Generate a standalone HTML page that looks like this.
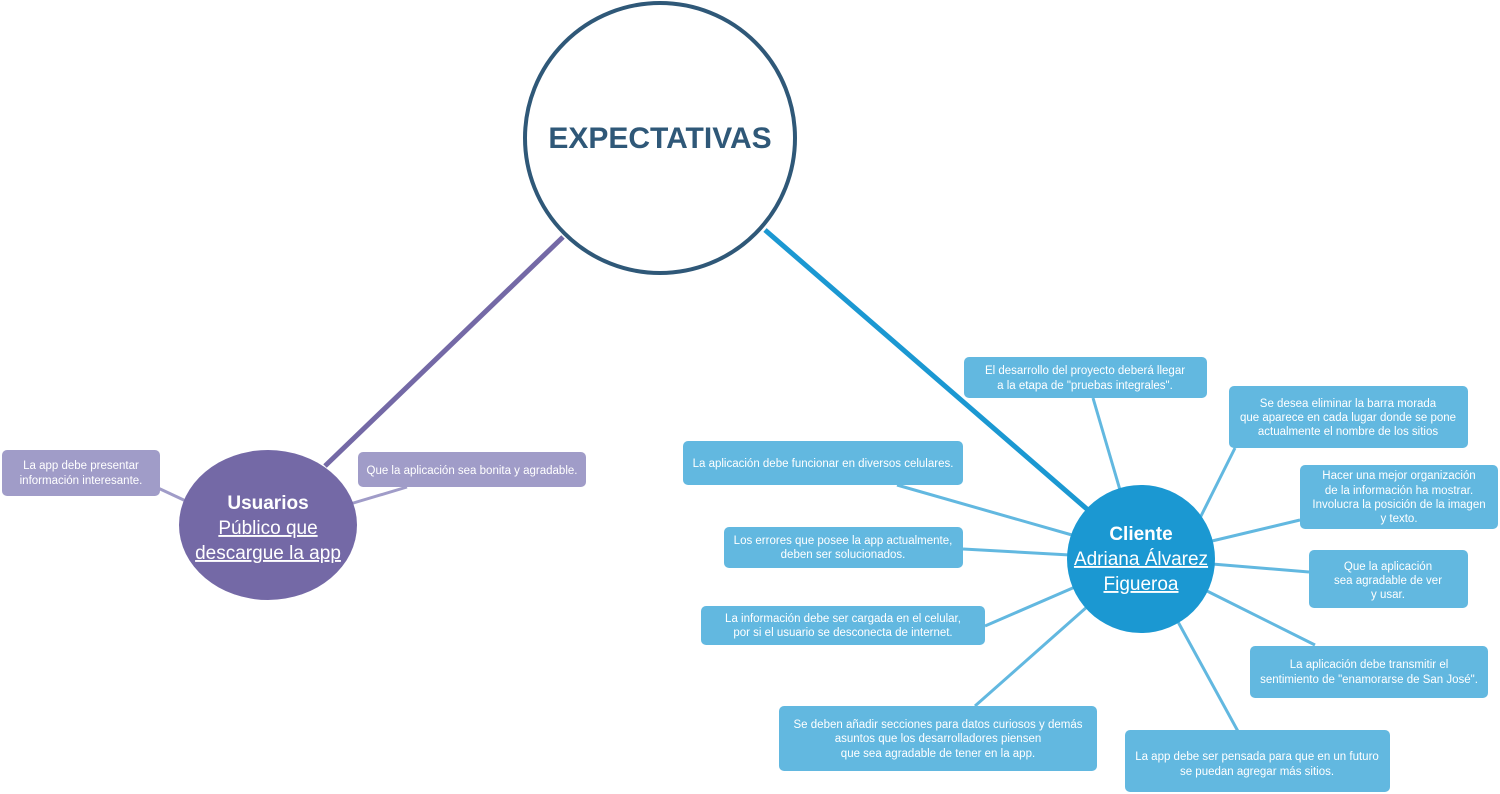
<!DOCTYPE html>
<html><head><meta charset="utf-8"><style>
html,body{margin:0;padding:0;background:#fff;}
svg{display:block;font-family:"Liberation Sans",sans-serif;}
.b{fill:#62b8e0;}
.p{fill:#a09cc8;}
.t{fill:#fff;font-size:11.5px;text-anchor:middle;}
.lb{stroke:#62b8e0;stroke-width:3;}
.lp{stroke:#a09cc8;stroke-width:3;}
</style></head><body>
<svg width="1500" height="794" viewBox="0 0 1500 794">
<line x1="563" y1="237" x2="325" y2="466" stroke="#7469a6" stroke-width="5"/>
<line x1="765" y1="230" x2="1088" y2="510" stroke="#1b98d2" stroke-width="5"/>
<circle cx="660" cy="138" r="135" fill="#fff" stroke="#2f5878" stroke-width="4"/>
<text x="660" y="148" text-anchor="middle" font-size="30" font-weight="bold" fill="#2f5878">EXPECTATIVAS</text>

<line class="lp" x1="158" y1="488" x2="188" y2="502"/>
<line class="lp" x1="407" y1="487" x2="350" y2="504"/>
<rect class="p" x="2" y="450" width="158" height="46" rx="5"/>
<text class="t" x="81" y="469">La app debe presentar</text>
<text class="t" x="81" y="484">información interesante.</text>
<rect class="p" x="358" y="452" width="228" height="35" rx="5"/>
<text class="t" x="472" y="474">Que la aplicación sea bonita y agradable.</text>
<ellipse cx="268" cy="525" rx="89" ry="75" fill="#7469a6"/>
<text x="268" y="509" text-anchor="middle" font-size="19" font-weight="bold" fill="#fff">Usuarios</text>
<text x="268" y="534" text-anchor="middle" font-size="19" fill="#fff" text-decoration="underline">Público que</text>
<text x="268" y="559" text-anchor="middle" font-size="19" fill="#fff" text-decoration="underline">descargue la app</text>

<line class="lb" x1="1093" y1="398" x2="1120" y2="490"/>
<line class="lb" x1="1235" y1="448" x2="1200" y2="518"/>
<line class="lb" x1="1300" y1="520" x2="1212" y2="541"/>
<line class="lb" x1="1309" y1="572" x2="1212" y2="564"/>
<line class="lb" x1="1315" y1="645" x2="1205" y2="590"/>
<line class="lb" x1="1240" y1="735" x2="1177" y2="620"/>
<line class="lb" x1="975" y1="706" x2="1088" y2="606"/>
<line class="lb" x1="985" y1="626" x2="1075" y2="587"/>
<line class="lb" x1="963" y1="549" x2="1070" y2="555"/>
<line class="lb" x1="897" y1="485" x2="1072" y2="535"/>

<rect class="b" x="964" y="357" width="243" height="41" rx="5"/>
<text class="t" x="1085" y="374">El desarrollo del proyecto deberá llegar</text>
<text class="t" x="1085" y="389">a la etapa de "pruebas integrales".</text>

<rect class="b" x="1229" y="386" width="239" height="62" rx="5"/>
<text class="t" x="1348" y="407">Se desea eliminar la barra morada</text>
<text class="t" x="1348" y="421">que aparece en cada lugar donde se pone</text>
<text class="t" x="1348" y="435">actualmente el nombre de los sitios</text>

<rect class="b" x="1300" y="465" width="198" height="64" rx="5"/>
<text class="t" x="1399" y="479">Hacer una mejor organización</text>
<text class="t" x="1399" y="494">de la información ha mostrar.</text>
<text class="t" x="1399" y="508">Involucra la posición de la imagen</text>
<text class="t" x="1399" y="522">y texto.</text>

<rect class="b" x="1309" y="550" width="159" height="58" rx="5"/>
<text class="t" x="1388" y="570">Que la aplicación</text>
<text class="t" x="1388" y="584">sea agradable de ver</text>
<text class="t" x="1388" y="598">y usar.</text>

<rect class="b" x="1250" y="646" width="238" height="52" rx="5"/>
<text class="t" x="1369" y="668">La aplicación debe transmitir el</text>
<text class="t" x="1369" y="683">sentimiento de "enamorarse de San José".</text>

<rect class="b" x="1125" y="730" width="265" height="62" rx="5"/>
<text class="t" x="1257" y="760">La app debe ser pensada para que en un futuro</text>
<text class="t" x="1257" y="775">se puedan agregar más sitios.</text>

<rect class="b" x="779" y="706" width="318" height="65" rx="5"/>
<text class="t" x="938" y="728">Se deben añadir secciones para datos curiosos y demás</text>
<text class="t" x="938" y="742">asuntos que los desarrolladores piensen</text>
<text class="t" x="938" y="757">que sea agradable de tener en la app.</text>

<rect class="b" x="701" y="606" width="284" height="39" rx="5"/>
<text class="t" x="843" y="622">La información debe ser cargada en el celular,</text>
<text class="t" x="843" y="636">por si el usuario se desconecta de internet.</text>

<rect class="b" x="724" y="527" width="239" height="41" rx="5"/>
<text class="t" x="843" y="544">Los errores que posee la app actualmente,</text>
<text class="t" x="843" y="558">deben ser solucionados.</text>

<rect class="b" x="683" y="441" width="280" height="44" rx="5"/>
<text class="t" x="823" y="467">La aplicación debe funcionar en diversos celulares.</text>

<circle cx="1141" cy="559" r="74" fill="#1b98d2"/>
<text x="1141" y="540" text-anchor="middle" font-size="19" font-weight="bold" fill="#fff">Cliente</text>
<text x="1141" y="565" text-anchor="middle" font-size="19" fill="#fff" text-decoration="underline">Adriana Álvarez</text>
<text x="1141" y="590" text-anchor="middle" font-size="19" fill="#fff" text-decoration="underline">Figueroa</text>
</svg>
</body></html>
